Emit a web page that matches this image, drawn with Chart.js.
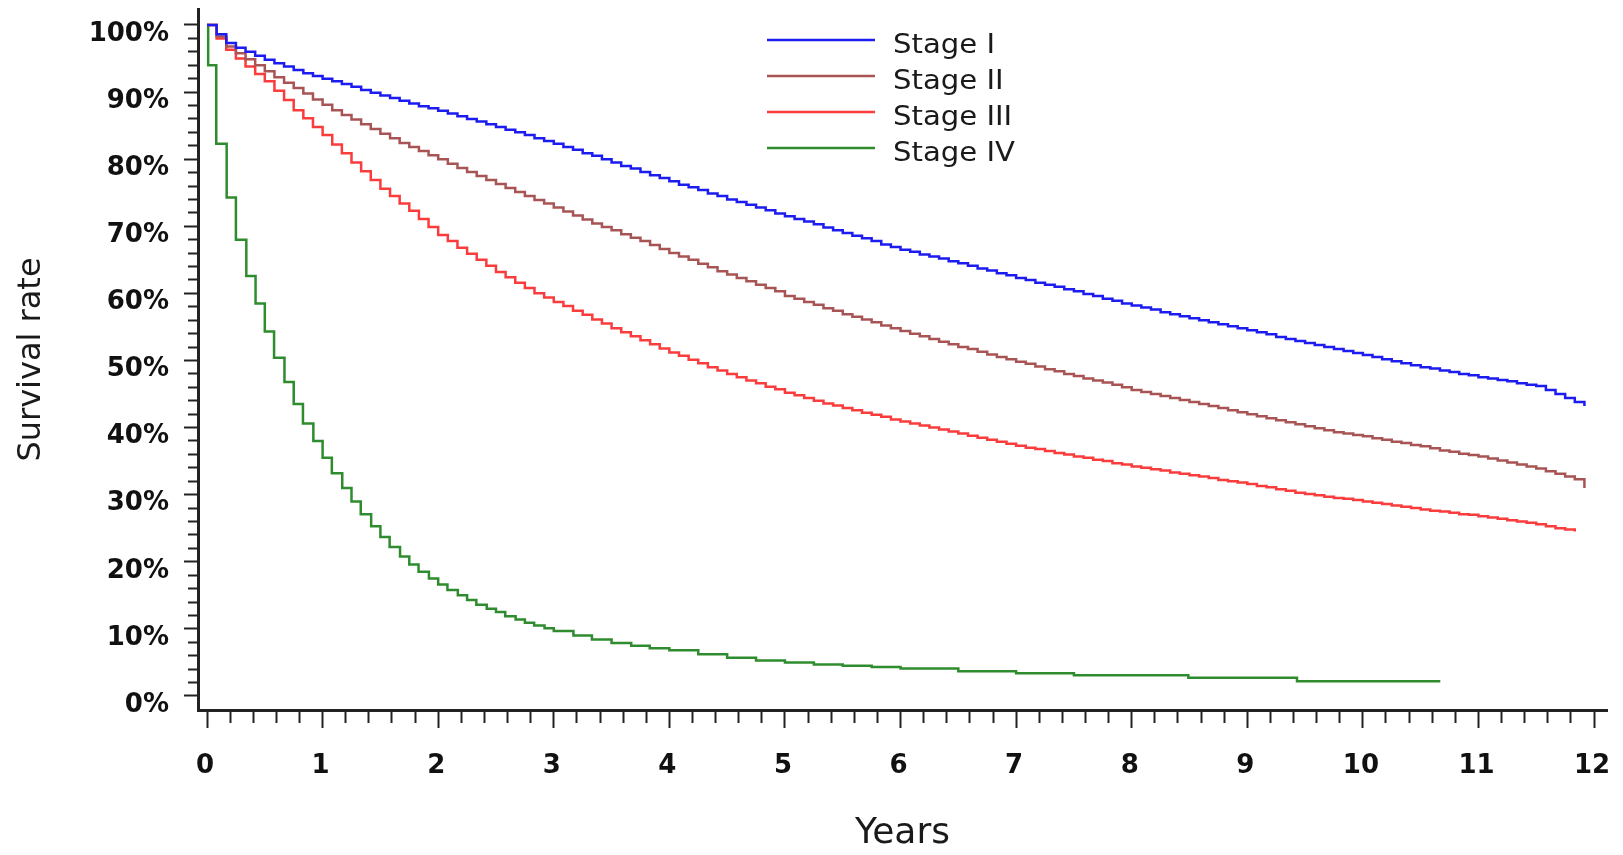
<!DOCTYPE html>
<html>
<head>
<meta charset="utf-8">
<title>Survival rate by stage</title>
<script src="https://cdn.jsdelivr.net/npm/chart.js@4.4.1/dist/chart.umd.min.js"></script>
<style>
  html, body { margin: 0; padding: 0; background: #fff; }
  #wrap { width: 1623px; height: 855px; position: relative; }
</style>
</head>
<body>
<div id="wrap"><canvas id="myChart"></canvas></div>
<script>
// follow-up time in months, shared by stage I-III
const months = [
  0, 1, 2, 3, 4, 5, 6, 7, 8, 9, 10, 11,
  12, 13, 14, 15, 16, 17, 18, 19, 20, 21, 22, 23,
  24, 25, 26, 27, 28, 29, 30, 31, 32, 33, 34, 35,
  36, 37, 38, 39, 40, 41, 42, 43, 44, 45, 46, 47,
  48, 49, 50, 51, 52, 53, 54, 55, 56, 57, 58, 59,
  60, 61, 62, 63, 64, 65, 66, 67, 68, 69, 70, 71,
  72, 73, 74, 75, 76, 77, 78, 79, 80, 81, 82, 83,
  84, 85, 86, 87, 88, 89, 90, 91, 92, 93, 94, 95,
  96, 97, 98, 99, 100, 101, 102, 103, 104, 105, 106, 107,
  108, 109, 110, 111, 112, 113, 114, 115, 116, 117, 118, 119,
  120, 121, 122, 123, 124, 125, 126, 127, 128, 129, 130, 131,
  132, 133, 134, 135, 136, 137, 138, 139, 140, 141, 142, 143
];

// survival in %, one value per month
const stage1 = [
  100, 98.6, 97.3, 96.6, 96.0, 95.4, 94.8, 94.3, 93.8, 93.3, 92.8, 92.4,
  92.0, 91.6, 91.2, 90.8, 90.3, 89.9, 89.5, 89.1, 88.7, 88.3, 87.9, 87.6,
  87.2, 86.8, 86.4, 86.0, 85.6, 85.2, 84.8, 84.4, 84.0, 83.6, 83.1, 82.7,
  82.3, 81.8, 81.4, 80.9, 80.5, 80.0, 79.5, 79.0, 78.6, 78.1, 77.6, 77.2,
  76.7, 76.2, 75.8, 75.4, 74.9, 74.5, 74.0, 73.6, 73.2, 72.8, 72.4, 71.9,
  71.5, 71.1, 70.7, 70.3, 69.8, 69.4, 69.0, 68.6, 68.2, 67.8, 67.3, 66.9,
  66.5, 66.2, 65.8, 65.5, 65.2, 64.8, 64.5, 64.1, 63.7, 63.4, 63.0, 62.7,
  62.3, 62.0, 61.6, 61.3, 61.0, 60.6, 60.3, 59.9, 59.6, 59.2, 58.9, 58.5,
  58.2, 57.9, 57.6, 57.2, 56.9, 56.6, 56.3, 56.0, 55.7, 55.4, 55.1, 54.8,
  54.5, 54.2, 53.9, 53.5, 53.2, 52.9, 52.6, 52.3, 52.0, 51.7, 51.4, 51.1,
  50.8, 50.5, 50.2, 49.9, 49.6, 49.3, 49.0, 48.8, 48.5, 48.3, 48.0, 47.8,
  47.5, 47.3, 47.1, 46.9, 46.6, 46.4, 46.2, 45.6, 45.0, 44.4, 43.8, 43.2
];

const stage2 = [
  100, 98.3, 96.8, 95.8, 94.9, 94.0, 93.1, 92.2, 91.4, 90.6, 89.8, 88.9,
  88.1, 87.3, 86.6, 85.9, 85.2, 84.5, 83.8, 83.1, 82.4, 81.8, 81.2, 80.6,
  80.0, 79.3, 78.7, 78.1, 77.5, 76.9, 76.3, 75.7, 75.1, 74.5, 73.9, 73.4,
  72.8, 72.2, 71.6, 71.0, 70.4, 69.9, 69.4, 68.8, 68.3, 67.8, 67.2, 66.6,
  66.0, 65.5, 65.0, 64.4, 63.9, 63.3, 62.8, 62.3, 61.8, 61.3, 60.8, 60.3,
  59.6, 59.2, 58.7, 58.3, 57.8, 57.4, 56.9, 56.5, 56.1, 55.7, 55.2, 54.8,
  54.4, 54.0, 53.6, 53.2, 52.8, 52.4, 52.0, 51.7, 51.3, 50.9, 50.5, 50.2,
  49.8, 49.5, 49.1, 48.7, 48.4, 48.0, 47.7, 47.3, 47.0, 46.7, 46.4, 46.0,
  45.6, 45.3, 45.0, 44.7, 44.4, 44.1, 43.8, 43.5, 43.2, 42.9, 42.6, 42.3,
  42.0, 41.7, 41.4, 41.1, 40.8, 40.5, 40.2, 39.9, 39.6, 39.3, 39.1, 38.9,
  38.7, 38.4, 38.2, 37.9, 37.7, 37.4, 37.2, 36.9, 36.6, 36.4, 36.1, 35.9,
  35.7, 35.4, 35.1, 34.8, 34.5, 34.2, 33.9, 33.5, 33.1, 32.7, 32.3, 31.0
];

const stage3 = [
  100, 98.0, 96.3, 95.0, 93.8, 92.7, 91.6, 90.2, 88.8, 87.3, 86.1, 84.8,
  83.6, 82.2, 80.9, 79.5, 78.2, 76.9, 75.6, 74.5, 73.4, 72.3, 71.1, 69.9,
  68.7, 67.8, 66.8, 65.9, 65.0, 64.1, 63.2, 62.4, 61.6, 60.8, 60.0, 59.4,
  58.7, 58.1, 57.4, 56.8, 56.1, 55.5, 54.8, 54.2, 53.6, 53.0, 52.4, 51.8,
  51.2, 50.7, 50.1, 49.6, 49.0, 48.5, 48.0, 47.5, 47.0, 46.6, 46.1, 45.7,
  45.2, 44.8, 44.4, 44.0, 43.6, 43.3, 42.9, 42.6, 42.2, 41.9, 41.6, 41.2,
  40.9, 40.6, 40.3, 40.0, 39.7, 39.4, 39.1, 38.8, 38.5, 38.2, 37.9, 37.6,
  37.3, 37.0, 36.8, 36.5, 36.2, 36.0, 35.7, 35.5, 35.2, 35.0, 34.7, 34.5,
  34.2, 34.0, 33.8, 33.6, 33.3, 33.1, 32.9, 32.7, 32.5, 32.2, 32.0, 31.8,
  31.6, 31.3, 31.1, 30.8, 30.6, 30.3, 30.1, 29.9, 29.7, 29.5, 29.4, 29.2,
  29.0, 28.8, 28.6, 28.4, 28.2, 28.0, 27.8, 27.6, 27.5, 27.3, 27.1, 27.0,
  26.8, 26.6, 26.4, 26.2, 26.0, 25.8, 25.6, 25.3, 25.0, 24.8, 24.5
];

// stage IV has its own (sparser) time points, in years
const stage4Years = [
  0, 0.01, 0.08, 0.17, 0.25, 0.34, 0.42, 0.5, 0.58, 0.67, 0.75, 0.83, 0.92, 1.0,
  1.08, 1.17, 1.25, 1.33, 1.42, 1.5, 1.58, 1.67, 1.75, 1.83, 1.92, 2.0,
  2.08, 2.17, 2.25, 2.33, 2.42, 2.5, 2.58, 2.67, 2.75, 2.83, 2.92, 3.0,
  3.17, 3.33, 3.5, 3.67, 3.83, 4.0, 4.25, 4.5, 4.75, 5.0, 5.25, 5.5, 5.75, 6.0,
  6.5, 7.0, 7.5, 8.49, 9.43, 10.67
];
const stage4 = [
  100, 94, 82.3, 74.3, 68, 62.6, 58.5, 54.3, 50.4, 46.8, 43.5, 40.6, 38, 35.5,
  33.2, 31, 29, 27.1, 25.3, 23.7, 22.2, 20.8, 19.6, 18.5, 17.5, 16.6,
  15.8, 15.0, 14.3, 13.6, 13.0, 12.5, 11.9, 11.4, 10.9, 10.5, 10.1, 9.7,
  9.0, 8.4, 7.9, 7.5, 7.1, 6.8, 6.2, 5.7, 5.3, 5.0, 4.7, 4.5, 4.3, 4.1,
  3.7, 3.4, 3.1, 2.7, 2.2, 2.2
];

const stageNames = ['Stage I', 'Stage II', 'Stage III', 'Stage IV'];
const stageColors = ['#1c1cf0', '#a85454', '#fa3c3c', '#2e8c2e'];

// labelled ticks
const xYearTicks = [0, 1, 2, 3, 4, 5, 6, 7, 8, 9, 10, 11, 12];
const yPercentTicks = [0, 10, 20, 30, 40, 50, 60, 70, 80, 90, 100];

// major ticks plus evenly spaced minor ticks in between
function withMinor(major, parts) {
    const out = [];
    for (let i = 0; i < major.length - 1; i++) {
        const step = (major[i + 1] - major[i]) / parts;
        for (let k = 0; k < parts; k++) out.push(major[i] + k * step);
    }
    out.push(major[major.length - 1]);
    return out;
}

function monthSeries(values) {
    return values.map((v, i) => ({ x: months[i] / 12, y: v }));
}

const stageData = [
    monthSeries(stage1),
    monthSeries(stage2),
    monthSeries(stage3),
    stage4Years.map((t, i) => ({ x: t, y: stage4[i] }))
];

// simple legend drawn in the upper middle of the plot
const stageLegend = {
    id: 'stageLegend',
    afterDraw(chart) {
        const ctx = chart.ctx;
        ctx.save();
        chart.data.datasets.forEach((ds, i) => {
            const y = 40 + i * 36;
            ctx.strokeStyle = ds.borderColor;
            ctx.lineWidth = 2.5;
            ctx.beginPath();
            ctx.moveTo(767, y);
            ctx.lineTo(875, y);
            ctx.stroke();
            // the original lettering is a bit wide, stretch it a little
            ctx.save();
            ctx.translate(893, y + 6);
            ctx.scale(1.12, 1);
            ctx.fillStyle = '#1a1a1a';
            ctx.font = '26px "DejaVu Sans"';
            ctx.textBaseline = 'middle';
            ctx.fillText(ds.label, 0, 0);
            ctx.restore();
        });
        ctx.restore();
    }
};

const tickFont = { family: 'DejaVu Sans', size: 26, weight: 'bold' };

const myChart = new Chart(document.getElementById('myChart'), {
    type: 'line',
    data: {
        datasets: stageData.map((d, i) => ({
            label: stageNames[i],
            data: d,
            borderColor: stageColors[i],
            borderWidth: 2.5,
            stepped: 'before',
            pointRadius: 0,
            fill: false
        }))
    },
    options: {
        responsive: true,
        maintainAspectRatio: false,
        animation: false,
        layout: { padding: { top: 9, right: 16, left: 8, bottom: 0 } },
        plugins: {
            legend: { display: false },
            tooltip: { enabled: false }
        },
        scales: {
            x: {
                type: 'linear',
                min: -0.078,
                max: 12.112,
                afterBuildTicks: (axis) => {
                    axis.ticks = withMinor(xYearTicks, 5).map(v => ({ value: v }));
                },
                afterFit: (axis) => {
                    axis.height = 145;
                    axis.paddingLeft = 0;
                    axis.paddingRight = 0;
                },
                ticks: {
                    autoSkip: false,
                    maxRotation: 0,
                    padding: 23,
                    labelOffset: -2,
                    color: '#111',
                    font: tickFont,
                    callback: (v) => xYearTicks.includes(v) ? String(v) : ''
                },
                grid: {
                    drawOnChartArea: false,
                    tickLength: 18,
                    tickWidth: 2,
                    tickColor: '#222',
                    tickBorderDash: (c) => (c.tick && xYearTicks.includes(c.tick.value)) ? [] : [11, 1000]
                },
                border: { display: true, color: '#222', width: 3 },
                title: {
                    display: true,
                    text: 'Years',
                    color: '#1a1a1a',
                    font: { family: 'DejaVu Sans', size: 36 },
                    padding: { top: 0, bottom: 0 }
                }
            },
            y: {
                min: -2.09,
                max: 102.38,
                afterBuildTicks: (axis) => {
                    axis.ticks = withMinor(yPercentTicks, 5).map(v => ({ value: v }));
                },
                afterFit: (axis) => {
                    axis.width = 190;
                    axis.paddingTop = 0;
                    axis.paddingBottom = 0;
                },
                ticks: {
                    autoSkip: false,
                    padding: 15,
                    labelOffset: 9,
                    color: '#111',
                    font: tickFont,
                    callback: (v) => yPercentTicks.includes(v) ? v + '%' : ''
                },
                grid: {
                    drawOnChartArea: false,
                    tickLength: 14,
                    tickWidth: 2,
                    tickColor: '#222',
                    tickBorderDash: (c) => (c.tick && yPercentTicks.includes(c.tick.value)) ? [] : [0, 4, 9, 1000]
                },
                border: { display: true, color: '#222', width: 3 },
                title: {
                    display: true,
                    text: 'Survival rate',
                    color: '#1a1a1a',
                    font: { family: 'DejaVu Sans', size: 32 },
                    padding: { top: 4, bottom: 0 }
                }
            }
        }
    },
    plugins: [stageLegend]
});
</script>
</body>
</html>
